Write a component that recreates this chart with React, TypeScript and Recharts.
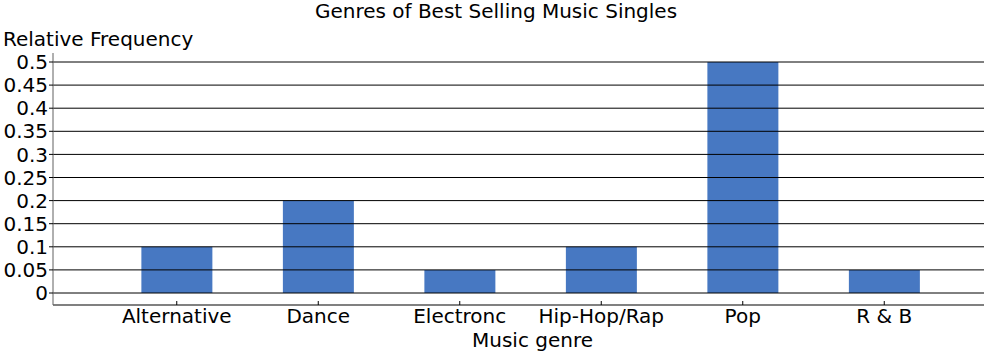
import React from 'react';
import { BarChart, Bar, XAxis, YAxis, ReferenceLine } from 'recharts';

const genres = ['Alternative', 'Dance', 'Electronc', 'Hip-Hop/Rap', 'Pop', 'R & B'];
const frequencies = [0.1, 0.2, 0.05, 0.1, 0.5, 0.05];
const yTicks = [0, 0.05, 0.1, 0.15, 0.2, 0.25, 0.3, 0.35, 0.4, 0.45, 0.5];

const data = genres.map((g, i) => ({ genre: g, value: frequencies[i] }));

const FONT = '"DejaVu Sans", Verdana, sans-serif';

const XTick = (props: any) => {
  const { x, y, payload } = props;
  return (
    <g>
      <line x1={x} x2={x} y1={y - 8} y2={y - 4} stroke="#000" strokeWidth={1} />
      <text x={x} y={y} dy="0.71em" textAnchor="middle" fill="#000" fontSize={20} fontFamily={FONT}>
        {payload.value}
      </text>
    </g>
  );
};

export default function App() {
  return (
    <div style={{ position: 'absolute', left: 0, top: 0, width: 992, height: 360, background: '#fff', fontFamily: FONT }}>
      <div style={{ position: 'absolute', left: 0, width: 992, top: 2, textAlign: 'center', fontSize: 20, lineHeight: '18px', color: '#000' }}>
        Genres of Best Selling Music Singles
      </div>
      <div style={{ position: 'absolute', left: 3, top: 27, fontSize: 20, lineHeight: '24px', color: '#000' }}>
        Relative Frequency
      </div>
      <BarChart
        width={992}
        height={360}
        data={data}
        margin={{ top: 53, right: 8, bottom: 0, left: 0 }}
        barCategoryGap="25%"
      >
        {yTicks.map((v) => (
          <ReferenceLine key={v} y={v} stroke="#000" strokeWidth={1} />
        ))}
        <XAxis
          dataKey="genre"
          axisLine={{ stroke: '#808080', strokeWidth: 2 }}
          tickLine={false}
          tickSize={0}
          tickMargin={4}
          padding={{ left: 53, right: 29 }}
          tick={<XTick />}
          interval={0}
          height={55}
          label={{ value: 'Music genre', position: 'bottom', offset: -27, dx: 14, fontSize: 20, fill: '#000', fontFamily: FONT }}
        />
        <YAxis
          width={53}
          domain={[0, 0.5]}
          ticks={yTicks}
          interval={0}
          padding={{ top: 9, bottom: 12 }}
          axisLine={{ stroke: '#606060', strokeWidth: 1 }}
          tickLine={{ stroke: '#000' }}
          tickSize={4}
          tickMargin={1}
          tick={{ fontSize: 20, fill: '#000', fontFamily: FONT }}
          allowDataOverflow
        />
        <Bar dataKey="value" fill="#4778c2" isAnimationActive={false} />
      </BarChart>
    </div>
  );
}
